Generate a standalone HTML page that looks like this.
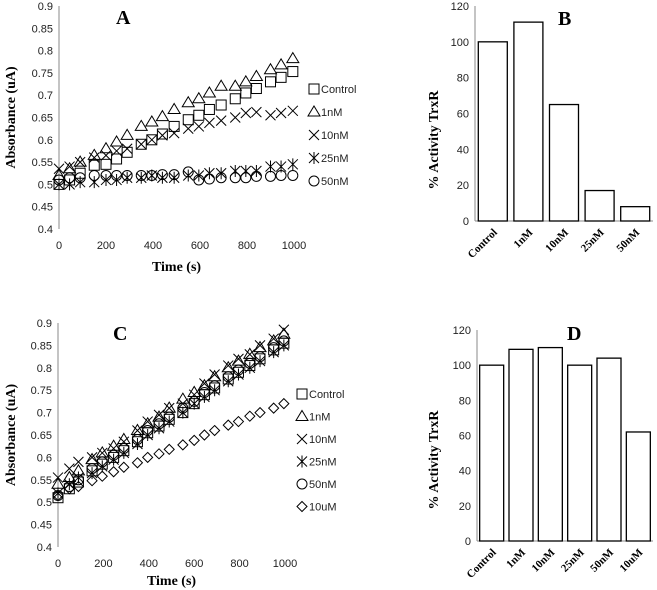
<!DOCTYPE html>
<html><head><meta charset="utf-8"><style>
html,body{margin:0;padding:0;background:#fff;}
svg{display:block;font-family:"Liberation Sans",sans-serif;}
.t{font-size:11px;fill:#222;}
.b{font-family:"Liberation Serif",serif;font-weight:bold;}
</style></head><body>
<svg id="s" width="657" height="590" viewBox="0 0 657 590"></svg>
<script>
const timesA=[0,45,90,150,200,245,290,350,395,440,490,550,595,640,690,750,795,840,900,945,995];
const ctrlA=[0.50,0.51,0.525,0.543,0.545,0.557,0.572,0.59,0.60,0.613,0.63,0.645,0.655,0.668,0.678,0.692,0.705,0.715,0.73,0.74,0.753];
const n1A=[0.52,0.535,0.55,0.565,0.58,0.595,0.61,0.63,0.64,0.652,0.668,0.683,0.692,0.705,0.72,0.72,0.73,0.742,0.757,0.768,0.782];
const n10A=[0.535,0.54,0.55,0.56,0.565,0.575,0.58,0.59,0.60,0.61,0.615,0.625,0.63,0.638,0.643,0.65,0.66,0.662,0.655,0.66,0.665];
const n25A=[0.50,0.50,0.505,0.505,0.51,0.51,0.515,0.515,0.52,0.515,0.515,0.52,0.52,0.525,0.525,0.53,0.53,0.53,0.54,0.54,0.545];
const n50A=[0.51,0.515,0.515,0.52,0.52,0.52,0.52,0.52,0.52,0.522,0.522,0.528,0.51,0.512,0.515,0.515,0.515,0.518,0.518,0.52,0.52];
const timesC=[0,50,90,150,195,245,290,350,395,445,490,550,600,645,690,750,795,845,890,950,995];
const ctrlC=[0.51,0.53,0.545,0.57,0.585,0.60,0.615,0.635,0.655,0.67,0.685,0.70,0.72,0.74,0.755,0.775,0.79,0.805,0.82,0.84,0.855];
const n1C=[0.54,0.555,0.57,0.595,0.61,0.625,0.64,0.66,0.675,0.69,0.71,0.73,0.745,0.76,0.78,0.80,0.815,0.83,0.845,0.86,0.875];
const n10C=[0.555,0.575,0.59,0.60,0.61,0.62,0.635,0.66,0.68,0.695,0.71,0.72,0.74,0.765,0.785,0.805,0.82,0.83,0.85,0.865,0.885];
const n25C=[0.52,0.54,0.555,0.565,0.58,0.595,0.61,0.63,0.65,0.665,0.68,0.70,0.72,0.735,0.75,0.77,0.785,0.80,0.815,0.835,0.85];
const n50C=[0.515,0.535,0.55,0.575,0.59,0.605,0.62,0.64,0.66,0.675,0.69,0.71,0.725,0.745,0.76,0.78,0.795,0.81,0.825,0.845,0.86];
const u10C=[0.515,0.53,0.535,0.548,0.558,0.568,0.578,0.588,0.60,0.608,0.618,0.628,0.638,0.65,0.66,0.672,0.68,0.692,0.70,0.71,0.72];
const catsB=["Control","1nM","10nM","25nM","50nM"];
const valsB=[100,111,65,17,8];
const catsD=["Control","1nM","10nM","25nM","50nM","10uM"];
const valsD=[100,109,110,100,104,62];
const yTicksL=[0.4,0.45,0.5,0.55,0.6,0.65,0.7,0.75,0.8,0.85,0.9];
const xTicksL=[0,200,400,600,800,1000];
const yTicksBar=[0,20,40,60,80,100,120];

const S=document.getElementById('s');const NS="http://www.w3.org/2000/svg";
function el(t,a,p){const e=document.createElementNS(NS,t);for(const k in a)e.setAttribute(k,a[k]);(p||S).appendChild(e);return e;}
function txt(x,y,s,a,p){const e=el('text',Object.assign({x:x,y:y},a),p);e.textContent=s;return e;}
function marker(g,type,x,y){
  const st={fill:'none',stroke:'#000','stroke-width':1};let m;
  if(type==='sq')m=el('rect',Object.assign({x:x-5,y:y-5,width:10,height:10},st),g);
  else if(type==='tri')m=el('path',Object.assign({d:`M${x} ${y-6}L${x+6} ${y+4}L${x-6} ${y+4}Z`},st),g);
  else if(type==='x')m=el('path',Object.assign({d:`M${x-5} ${y-5}L${x+5} ${y+5}M${x-5} ${y+5}L${x+5} ${y-5}`},st),g);
  else if(type==='ast')m=el('path',Object.assign({d:`M${x-5} ${y-5}L${x+5} ${y+5}M${x-5} ${y+5}L${x+5} ${y-5}M${x} ${y-6}L${x} ${y+6}`},st),g);
  else if(type==='ci')m=el('circle',Object.assign({cx:x,cy:y,r:5},st),g);
  else m=el('path',Object.assign({d:`M${x} ${y-5}L${x+5} ${y}L${x} ${y+5}L${x-5} ${y}Z`},st),g);
  return m;
}
function lineChart(o){
  const g=el('g',{});
  const X=v=>o.x0+(o.x1-o.x0)*v/1000, Y=v=>o.y1-(o.y1-o.y0)*(v-0.4)/0.5;
  el('line',{x1:o.x0,y1:o.y0,x2:o.x0,y2:o.y1,stroke:'#888'},g);
  yTicksL.forEach(v=>{const t=txt(o.x0-6,Y(v)+4,String(v),{class:'t','text-anchor':'end'},g);});
  xTicksL.forEach(v=>{const t=txt(X(v),o.y1+20,String(v),{class:'t','text-anchor':'middle'},g);});
  o.series.forEach((s,i)=>{
    const sg=el('g',{},g);
    s.data.forEach((v,j)=>{const m=marker(sg,s.m,X(o.times[j]),Y(v));});
    const lg=el('g',{},g);
    const ly=o.ly0+i*o.ldy;marker(lg,s.m,o.lx,ly);txt(o.lx+7,ly+4,s.label,{class:'t'},lg);
  });
  const ti=txt(X(500),o.xty,'Time (s)',{class:'b','font-size':'14px','text-anchor':'middle'},g);
  const yt=txt(0,0,'Absorbance  (uA)',{class:'b','font-size':'14px','text-anchor':'middle',transform:`translate(15,${(o.y0+o.y1)/2}) rotate(-90)`},g);
  const pl=txt(o.px,o.py,o.panel,{class:'b','font-size':'20px'},g);
}
function barChart(o){
  const g=el('g',{});
  const Y=v=>o.y1-(o.y1-o.y0)*v/120;const w=(o.x1-o.x0)/o.cats.length;
  el('line',{x1:o.x0,y1:o.y0,x2:o.x0,y2:o.y1,stroke:'#888'},g);
  el('line',{x1:o.x0,y1:o.y1,x2:o.x1,y2:o.y1,stroke:'#888'},g);
  yTicksBar.forEach(v=>{const t=txt(o.x0-6,Y(v)+4,String(v),{class:'t','text-anchor':'end'},g);});
  o.cats.forEach((c,i)=>{
    const cx=o.x0+w*(i+0.5);
    const r=el('rect',{x:cx-o.bw/2,y:Y(o.vals[i]),width:o.bw,height:Y(0)-Y(o.vals[i]),fill:'#fff',stroke:'#000','stroke-width':1.3},g);
    
    const t=txt(0,0,c,{class:'b','font-size':'11px','text-anchor':'end',transform:`translate(${cx+5},${o.y1+12}) rotate(-45)`},g);
    
  });
  const yt=txt(0,0,'% Activity  TrxR',{class:'b','font-size':'14px','text-anchor':'middle',transform:`translate(438,${o.tyc}) rotate(-90)`},g);
  const pl=txt(o.px,o.py,o.panel,{class:'b','font-size':'20px'},g);
}
lineChart({name:'chart-a',x0:59,x1:294,y0:6,y1:229,times:timesA,lx:314,ly0:89,ldy:23,xty:271,px:116,py:24,panel:'A',
  series:[{label:'Control',m:'sq',data:ctrlA},{label:'1nM',m:'tri',data:n1A},{label:'10nM',m:'x',data:n10A},{label:'25nM',m:'ast',data:n25A},{label:'50nM',m:'ci',data:n50A}]});
lineChart({name:'chart-c',x0:58,x1:285,y0:323,y1:547,times:timesC,lx:302,ly0:394,ldy:22.5,xty:585,px:113,py:340,panel:'C',
  series:[{label:'Control',m:'sq',data:ctrlC},{label:'1nM',m:'tri',data:n1C},{label:'10nM',m:'x',data:n10C},{label:'25nM',m:'ast',data:n25C},{label:'50nM',m:'ci',data:n50C},{label:'10uM',m:'di',data:u10C}]});
barChart({name:'chart-b',x0:475,x1:653,y0:6,y1:221,cats:catsB,vals:valsB,bw:29,tyc:140,px:558,py:25,panel:'B'});
barChart({name:'chart-d',x0:477,x1:653,y0:330,y1:541,cats:catsD,vals:valsD,bw:24,tyc:460,px:567,py:340,panel:'D'});
</script>
</body></html>
